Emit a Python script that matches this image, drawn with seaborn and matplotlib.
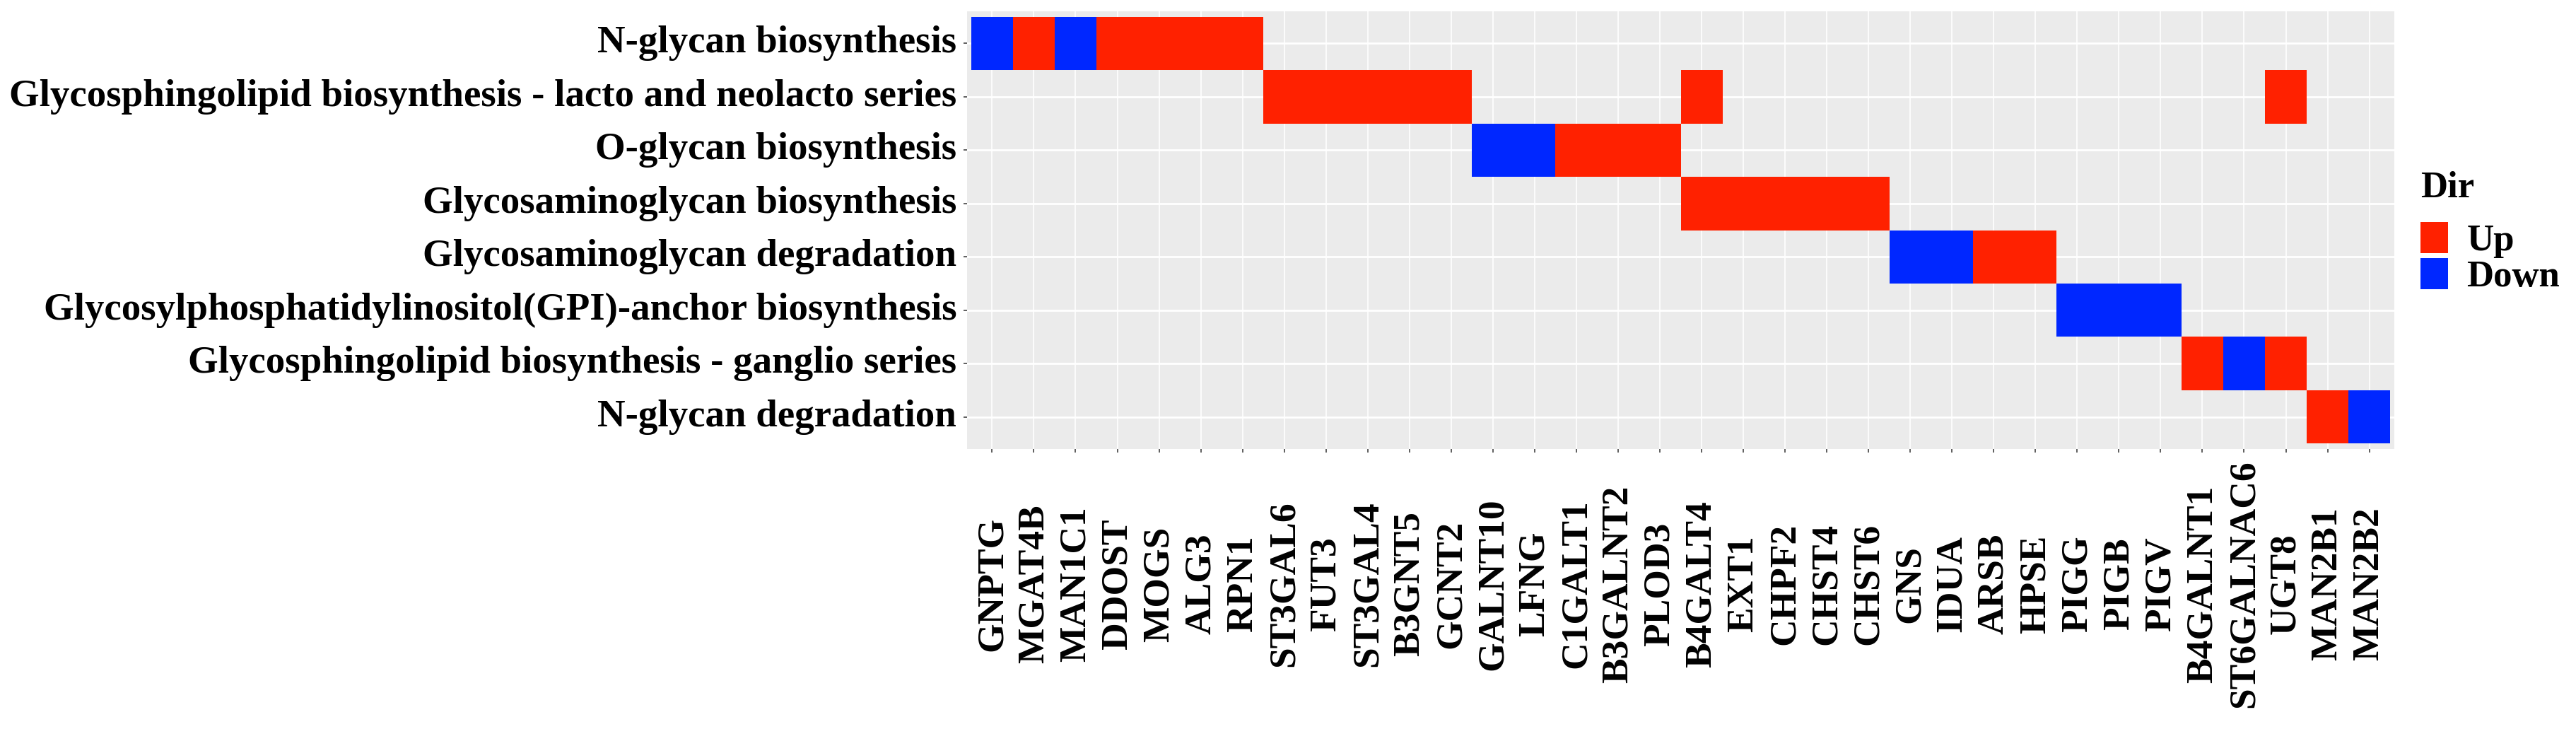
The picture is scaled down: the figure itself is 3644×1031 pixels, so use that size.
import numpy as np
import pandas as pd
import matplotlib
matplotlib.use("Agg")
import matplotlib.pyplot as plt
import seaborn as sns
from matplotlib.colors import ListedColormap
from matplotlib.patches import Patch
from matplotlib.font_manager import FontProperties

# ---------------- data ----------------
pathways = [
    "N-glycan biosynthesis",
    "Glycosphingolipid biosynthesis - lacto and neolacto series",
    "O-glycan biosynthesis",
    "Glycosaminoglycan biosynthesis",
    "Glycosaminoglycan degradation",
    "Glycosylphosphatidylinositol(GPI)-anchor biosynthesis",
    "Glycosphingolipid biosynthesis - ganglio series",
    "N-glycan degradation",
]

genes = [
    "GNPTG", "MGAT4B", "MAN1C1", "DDOST", "MOGS", "ALG3", "RPN1",
    "ST3GAL6", "FUT3", "ST3GAL4", "B3GNT5", "GCNT2",
    "GALNT10", "LFNG", "C1GALT1", "B3GALNT2", "PLOD3",
    "B4GALT4", "EXT1", "CHPF2", "CHST4", "CHST6",
    "GNS", "IDUA", "ARSB", "HPSE",
    "PIGG", "PIGB", "PIGV",
    "B4GALNT1", "ST6GALNAC6", "UGT8",
    "MAN2B1", "MAN2B2",
]

tile_pathway = (
    ["N-glycan biosynthesis"] * 7
    + ["Glycosphingolipid biosynthesis - lacto and neolacto series"] * 7
    + ["O-glycan biosynthesis"] * 5
    + ["Glycosaminoglycan biosynthesis"] * 5
    + ["Glycosaminoglycan degradation"] * 4
    + ["Glycosylphosphatidylinositol(GPI)-anchor biosynthesis"] * 3
    + ["Glycosphingolipid biosynthesis - ganglio series"] * 3
    + ["N-glycan degradation"] * 2
)
tile_gene = [
    "GNPTG", "MGAT4B", "MAN1C1", "DDOST", "MOGS", "ALG3", "RPN1",
    "ST3GAL6", "FUT3", "ST3GAL4", "B3GNT5", "GCNT2", "B4GALT4", "UGT8",
    "GALNT10", "LFNG", "C1GALT1", "B3GALNT2", "PLOD3",
    "B4GALT4", "EXT1", "CHPF2", "CHST4", "CHST6",
    "GNS", "IDUA", "ARSB", "HPSE",
    "PIGG", "PIGB", "PIGV",
    "B4GALNT1", "ST6GALNAC6", "UGT8",
    "MAN2B1", "MAN2B2",
]
tile_dir = [
    "Down", "Up", "Down", "Up", "Up", "Up", "Up",
    "Up", "Up", "Up", "Up", "Up", "Up", "Up",
    "Down", "Down", "Up", "Up", "Up",
    "Up", "Up", "Up", "Up", "Up",
    "Down", "Down", "Up", "Up",
    "Down", "Down", "Down",
    "Up", "Down", "Up",
    "Up", "Down",
]

dir_levels = ["Up", "Down"]
dir_colors = {"Up": "#FF2100", "Down": "#0027FF"}

# ---------------- build matrix ----------------
df = pd.DataFrame({"pathway": tile_pathway, "gene": tile_gene, "dir": tile_dir})
df["code"] = df["dir"].map({"Down": 0, "Up": 1})
mat = df.pivot(index="pathway", columns="gene", values="code").reindex(index=pathways, columns=genes)

# ---------------- figure ----------------
W, H = 3644, 1031
fig = plt.figure(figsize=(W / 100, H / 100), dpi=100)
fig.patch.set_facecolor("white")

L, R, T, B = 1368, 3387, 16, 635
ax = fig.add_axes([L / W, 1 - B / H, (R - L) / W, (B - T) / H])
ax.set_facecolor("#EBEBEB")
ax.set_axisbelow(True)

sns.heatmap(
    mat, ax=ax,
    cmap=ListedColormap([dir_colors["Down"], dir_colors["Up"]]),
    vmin=0, vmax=1, cbar=False, linewidths=0,
    xticklabels=True, yticklabels=True,
)

n_x, n_y = len(genes), len(pathways)
ax.set_xlim(-0.1, n_x + 0.1)
ax.set_ylim(n_y + 0.1, -0.1)

ax.grid(True)
ax.xaxis.grid(True, color="white", linewidth=1.2)
ax.yaxis.grid(True, color="white", linewidth=2.0)
for s in ax.spines.values():
    s.set_visible(False)
ax.set_xlabel("")
ax.set_ylabel("")

ax.tick_params(axis="x", length=3.6, width=1.1, color="#333333", pad=133.9)
ax.tick_params(axis="y", length=3.6, width=1.1, color="#333333", pad=7.0)

for t in ax.get_xticklabels():
    t.set_rotation(90)
    t.set_ha("center")
    t.set_va("center")
    t.set_fontsize(38.5)
    t.set_fontfamily("Liberation Serif")
    t.set_fontweight("bold")
    t.set_color("black")
for t in ax.get_yticklabels():
    t.set_rotation(0)
    t.set_ha("right")
    t.set_va("center")
    t.set_fontsize(39.5)
    t.set_fontfamily("Liberation Serif")
    t.set_fontweight("bold")
    t.set_color("black")

# ---------------- legend ----------------
fp = FontProperties(family="Liberation Serif", weight="bold", size=38)
fig.text(3424 / W, 1 - 266 / H, "Dir", ha="left", va="center", fontproperties=fp, color="black")
handles = [Patch(facecolor=dir_colors[d], edgecolor="none", label=d) for d in dir_levels]
leg = fig.legend(
    handles=handles, loc="center left",
    bbox_to_anchor=(3424 / W, 1 - 365 / H),
    frameon=False, prop=fp,
    handlelength=0.74, handleheight=0.92, handletextpad=0.5,
    labelspacing=0.0, borderpad=0, borderaxespad=0,
)

fig.savefig("out.png", dpi=100, facecolor="white")
